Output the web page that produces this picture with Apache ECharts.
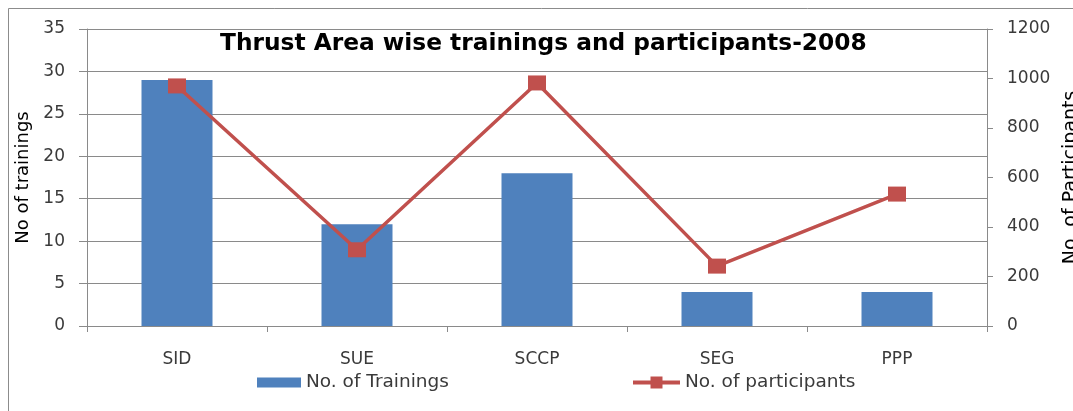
<!DOCTYPE html>
<html><head><meta charset="utf-8">
<script src="https://cdn.jsdelivr.net/npm/echarts@6/dist/echarts.min.js"></script>
<style>html,body{margin:0;padding:0;background:#fff}#c{width:1073px;height:411px}</style>
</head><body><div id="c"></div>
<script>
const categories = ['SID', 'SUE', 'SCCP', 'SEG', 'PPP'];
const trainings = [29, 12, 18, 4, 4];
const participants = [970, 308, 982, 242, 533];
const leftTicks = {min: 0, max: 35, interval: 5};
const rightTicks = {min: 0, max: 1200, interval: 200};

const chart = echarts.init(document.getElementById('c'), null, {renderer: 'canvas'});
const FONT = 'DejaVu Sans';
const gray = '#8a8a8a';
const labelColor = '#3a3a3a';
chart.setOption({
  animation: false,
  backgroundColor: '#fff',
  textStyle: {fontFamily: FONT},
  graphic: [{
    type: 'rect', z: -1, silent: true,
    shape: {x: 8.5, y: 8.5, width: 1200, height: 500},
    style: {fill: 'none', stroke: '#8c8c8c', lineWidth: 1}
  }],
  title: {
    text: 'Thrust Area wise trainings and participants-2008',
    left: 215, top: 27,
    textStyle: {fontFamily: FONT, fontWeight: 'bold', fontSize: 23.3, color: '#000'}
  },
  legend: [{
    data: [{name: 'No. of Trainings', icon: 'rect'}], left: 257, top: 373, padding: 0,
    itemWidth: 44, itemHeight: 10, itemGap: 4,
    textStyle: {fontFamily: FONT, fontSize: 18.5, color: labelColor}
  }, {
    data: ['No. of participants'], left: 631, top: 373, padding: 0,
    itemWidth: 47, itemHeight: 15, itemGap: 4,
    lineStyle: {width: 4},
    textStyle: {fontFamily: FONT, fontSize: 18.5, color: labelColor}
  }],
  grid: {left: 87, right: 86, top: 29, bottom: 85, outerBoundsMode: 'none', containLabel: false},
  xAxis: {
    type: 'category', data: categories,
    axisLine: {lineStyle: {color: gray}},
    axisTick: {show: true, length: 6, lineStyle: {color: gray}},
    axisLabel: {fontFamily: FONT, fontSize: 17, color: labelColor, margin: 25}
  },
  yAxis: [{
    type: 'value', min: leftTicks.min, max: leftTicks.max, interval: leftTicks.interval,
    name: 'No of trainings', nameLocation: 'middle', nameGap: 50,
    nameTextStyle: {fontFamily: FONT, fontSize: 18, color: '#000'},
    axisLine: {show: true, lineStyle: {color: gray}},
    axisTick: {show: true, length: 8, lineStyle: {color: gray}},
    axisLabel: {fontFamily: FONT, fontSize: 17, color: labelColor, margin: 22},
    splitLine: {lineStyle: {color: gray}}
  }, {
    type: 'value', min: rightTicks.min, max: rightTicks.max, interval: rightTicks.interval,
    name: 'No. of Participants', nameLocation: 'middle', nameGap: 68, nameRotate: 90,
    nameTextStyle: {fontFamily: FONT, fontSize: 19, color: '#000'},
    axisLine: {show: true, lineStyle: {color: gray}},
    axisTick: {show: true, length: 6, lineStyle: {color: gray}},
    axisLabel: {fontFamily: FONT, fontSize: 17, color: labelColor, margin: 20,
      formatter: v => String(v)},
    splitLine: {show: false}
  }],
  series: [{
    name: 'No. of Trainings', type: 'bar', data: trainings, yAxisIndex: 0,
    barWidth: 71, itemStyle: {color: '#4F81BD'}
  }, {
    name: 'No. of participants', type: 'line', data: participants, yAxisIndex: 1,
    symbol: 'rect', symbolSize: [18, 15], showAllSymbol: true,
    lineStyle: {color: '#C0504D', width: 3.5},
    itemStyle: {color: '#C0504D'}
  }]
});
</script></body></html>
